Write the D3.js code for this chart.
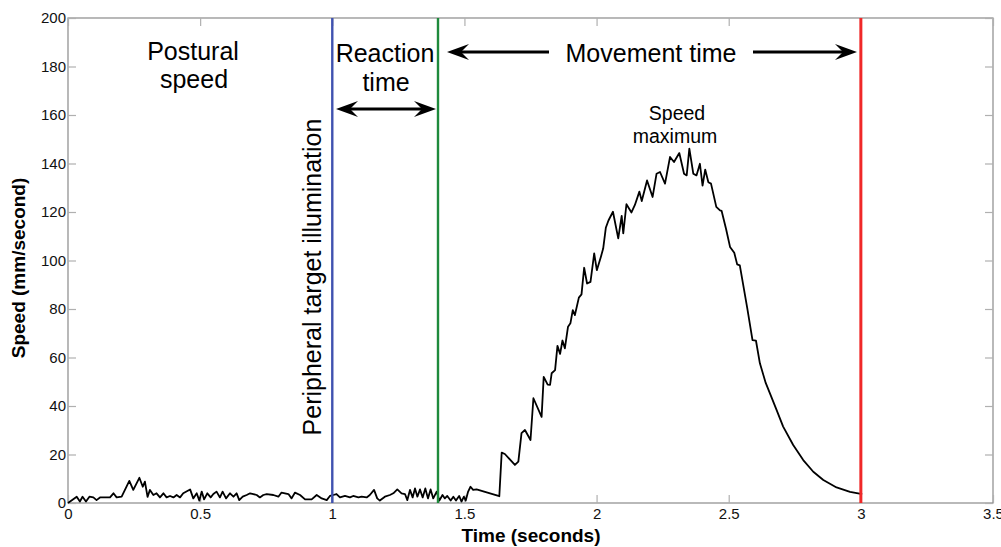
<!DOCTYPE html>
<html>
<head>
<meta charset="utf-8">
<script src="https://cdnjs.cloudflare.com/ajax/libs/d3/7.8.5/d3.min.js"></script>
<style>
  body { margin: 0; background: #fff; }
  svg { display: block; font-family: "Liberation Sans", Arial, sans-serif; }
</style>
</head>
<body>
<div class="board"></div>
<script>
// speed trace (seconds, mm/second)
var time = [
  0, 0.033, 0.045, 0.055, 0.068, 0.081, 0.096, 0.108, 0.121, 0.159, 0.172, 0.184, 0.203, 0.232, 0.247,
  0.270, 0.283, 0.291, 0.301, 0.310, 0.323, 0.335, 0.348, 0.361, 0.373, 0.386, 0.399, 0.411, 0.424, 0.436,
  0.462, 0.474, 0.487, 0.497, 0.506, 0.515, 0.527, 0.540, 0.550, 0.562, 0.575, 0.585, 0.598, 0.613, 0.626,
  0.638, 0.648, 0.661, 0.676, 0.689, 0.701, 0.714, 0.726, 0.739, 0.752, 0.777, 0.796, 0.808, 0.821, 0.834,
  0.846, 0.859, 0.878, 0.897, 0.922, 0.941, 0.960, 0.979, 0.991, 1.004, 1.016, 1.029, 1.048, 1.067, 1.079,
  1.099, 1.111, 1.130, 1.142, 1.158, 1.170, 1.180, 1.199, 1.218, 1.231, 1.246, 1.262, 1.275, 1.284, 1.294,
  1.304, 1.313, 1.322, 1.332, 1.342, 1.352, 1.362, 1.372, 1.382, 1.395, 1.405, 1.417, 1.426, 1.435, 1.448,
  1.458, 1.468, 1.480, 1.489, 1.498, 1.505, 1.514, 1.523, 1.533, 1.546, 1.632, 1.641, 1.653, 1.691, 1.704,
  1.716, 1.729, 1.750, 1.761, 1.792, 1.800, 1.815, 1.824, 1.830, 1.843, 1.852, 1.862, 1.871, 1.880, 1.892,
  1.901, 1.910, 1.918, 1.933, 1.943, 1.953, 1.964, 1.977, 1.991, 2.001, 2.017, 2.025, 2.035, 2.045, 2.062,
  2.082, 2.095, 2.101, 2.113, 2.132, 2.145, 2.162, 2.171, 2.191, 2.212, 2.227, 2.240, 2.259, 2.278, 2.293,
  2.313, 2.331, 2.341, 2.351, 2.366, 2.378, 2.391, 2.401, 2.411, 2.423, 2.433, 2.453, 2.467, 2.473, 2.490,
  2.505, 2.521, 2.532, 2.542, 2.570, 2.590, 2.603, 2.618, 2.640, 2.656, 2.681, 2.706, 2.744, 2.782, 2.820,
  2.858, 2.908, 2.959, 3.005
];
var speed = [
  0, 2.6, 0.6, 2.6, 0.6, 2.6, 2.3, 1.2, 2.3, 2.3, 4.0, 2.3, 2.6, 9.1, 5.4,
  10.4, 6.7, 8.8, 2.5, 5.4, 3.3, 4.0, 2.3, 4.0, 2.3, 2.9, 2.3, 3.3, 2.3, 4.0,
  5.6, 1.9, 4.0, 1.0, 4.7, 1.5, 4.0, 2.3, 3.7, 4.7, 2.3, 4.7, 1.9, 4.0, 2.6,
  4.0, 1.2, 2.6, 3.3, 4.0, 3.7, 3.3, 2.3, 3.3, 3.7, 3.3, 2.6, 4.3, 4.0, 3.7,
  1.9, 4.3, 3.3, 1.5, 1.5, 3.3, 1.9, 1.2, 2.9, 3.3, 3.7, 2.3, 2.9, 2.3, 2.9,
  2.3, 2.6, 2.3, 3.3, 5.4, 1.9, 1.0, 2.6, 3.3, 4.0, 5.6, 4.0, 3.7, 1.2, 5.4,
  2.3, 6.0, 2.6, 5.6, 2.3, 6.0, 1.9, 5.6, 1.9, 4.7, 1.0, 3.3, 1.9, 2.9, 1.0,
  2.6, 1.0, 2.9, 0.6, 2.6, 1.0, 4.7, 6.7, 5.4, 5.6, 2.8, 20.8, 20.2, 15.7, 17.1,
  28.8, 30.1, 26.0, 43.2, 35.5, 52.0, 48.8, 48.7, 53.5, 54.8, 64.8, 61.5, 67.0, 63.8, 72.7,
  74.1, 79.5, 77.5, 84.7, 86.0, 97.0, 90.5, 91.2, 102.9, 96.0, 101.8, 104.9, 113.5, 116.5, 120.1,
  109.1, 118.4, 111.2, 123.2, 119.8, 122.9, 128.4, 124.5, 133.0, 126.2, 135.8, 136.5, 131.7, 142.7, 140.6,
  144.3, 135.8, 135.1, 146.1, 135.8, 135.1, 139.9, 130.9, 137.5, 132.3, 131.7, 122.1, 120.7, 120.5, 113.0,
  105.6, 103.2, 98.4, 98.0, 80.5, 67.2, 67.0, 57.6, 49.5, 45.2, 38.4, 31.5, 23.9, 17.7, 12.9,
  9.5, 6.4, 4.6, 3.7
];

// event markers (seconds)
var eventTimes = [1.0, 1.4, 3.0];
var eventColors = ['#4052b0', '#1e8a3c', '#f02828'];

var xTicks = [0, 0.5, 1, 1.5, 2, 2.5, 3, 3.5];
var yTicks = [0, 20, 40, 60, 80, 100, 120, 140, 160, 180, 200];

var W = 1001, H = 547;
// plot box (note: "top" is taken by window.top, so use other names)
var boxL = 68, boxR = 993, boxT = 18, boxB = 503;

var x = d3.scaleLinear().domain([0, 3.5]).range([boxL, boxR]);
var y = d3.scaleLinear().domain([0, 200]).range([boxB, boxT]);

var svg = d3.select('.board').append('svg').attr('width', W).attr('height', H);

// frame
svg.append('rect')
    .attr('x', boxL).attr('y', boxT)
    .attr('width', boxR - boxL).attr('height', boxB - boxT)
    .attr('fill', 'none').attr('stroke', '#8a8a8a').attr('stroke-width', 1.2);

function styleAxis(g) {
  g.attr('font-size', 15).attr('font-family', '"Liberation Sans", Arial, sans-serif');
  g.select('.domain').remove();
  g.selectAll('.tick line').attr('stroke', '#b0b0b0').attr('stroke-width', 1.2);
  g.selectAll('.tick text').attr('fill', '#111');
}

svg.append('g').attr('transform', 'translate(0,' + boxB + ')')
    .call(d3.axisBottom(x).tickValues(xTicks).tickSize(-8).tickPadding(5).tickFormat(function(d) { return d; }))
    .call(styleAxis);
svg.append('g').attr('transform', 'translate(0,' + boxT + ')')
    .call(d3.axisTop(x).tickValues(xTicks).tickSize(-8).tickFormat(''))
    .call(styleAxis);
svg.append('g').attr('transform', 'translate(' + boxL + ',0)')
    .call(d3.axisLeft(y).tickValues(yTicks).tickSize(-8).tickPadding(2))
    .call(styleAxis);
svg.append('g').attr('transform', 'translate(' + boxR + ',0)')
    .call(d3.axisRight(y).tickValues(yTicks).tickSize(-8).tickFormat(''))
    .call(styleAxis);

// the speed curve
var line = d3.line()
    .x(function(d, i) { return x(time[i]); })
    .y(function(d) { return y(d); });

svg.append('path')
    .datum(speed)
    .attr('d', line)
    .attr('fill', 'none')
    .attr('stroke', '#000')
    .attr('stroke-width', 1.8)
    .attr('stroke-linejoin', 'round');

// vertical event lines
svg.selectAll('.event')
    .data(eventTimes)
    .enter()
    .append('line')
    .classed('event', true)
    .attr('x1', function(d) { return x(d); })
    .attr('x2', function(d) { return x(d); })
    .attr('y1', boxT)
    .attr('y2', boxB)
    .attr('stroke', function(d, i) { return eventColors[i]; })
    .attr('stroke-width', function(d, i) { return i === 2 ? 3 : 2.4; });

// annotations
function label(txt, px, py, size) {
  return svg.append('text').attr('x', px).attr('y', py)
      .attr('text-anchor', 'middle').style('font-size', size + 'px').attr('fill', '#000').text(txt);
}

label('Postural', 193, 60, 25);
label('speed', 194, 88, 25);
label('Reaction', 385, 62, 25);
label('time', 386, 91, 25);
label('Movement time', 651, 62, 25);
label('Speed', 677, 120, 19.5);
label('maximum', 675, 143, 19.5);

svg.append('text')
    .attr('transform', 'translate(321,277) rotate(-90)')
    .attr('text-anchor', 'middle').style('font-size', '25px').text('Peripheral target illumination');

// arrows: head drawn as a swept-back triangle
function arrowHead(tipX, tipY, dir) {
  var L = 22, Wd = 8, notch = 14;
  var p = [
    [tipX, tipY],
    [tipX - dir * L, tipY - Wd],
    [tipX - dir * notch, tipY],
    [tipX - dir * L, tipY + Wd]
  ];
  svg.append('path').attr('d', 'M' + p.join('L') + 'Z').attr('fill', '#000');
}

function arrow(x1, x2, yy, headLeft, headRight) {
  svg.append('line').attr('x1', x1 + (headLeft ? 12 : 0)).attr('x2', x2 - (headRight ? 12 : 0))
      .attr('y1', yy).attr('y2', yy).attr('stroke', '#000').attr('stroke-width', 3);
  if (headLeft) arrowHead(x1, yy, -1);
  if (headRight) arrowHead(x2, yy, 1);
}

arrow(336, 436, 109, true, true);
arrow(447, 549, 52, true, false);
arrow(753, 857, 52, false, true);

// axis titles
svg.append('text')
    .attr('x', 531).attr('y', 542)
    .attr('text-anchor', 'middle').style('font-size', '19px').style('font-weight', 'bold')
    .text('Time (seconds)');

svg.append('text')
    .attr('transform', 'translate(25,268) rotate(-90)')
    .attr('text-anchor', 'middle').style('font-size', '19px').style('font-weight', 'bold')
    .text('Speed (mm/second)');
</script>
</body>
</html>
